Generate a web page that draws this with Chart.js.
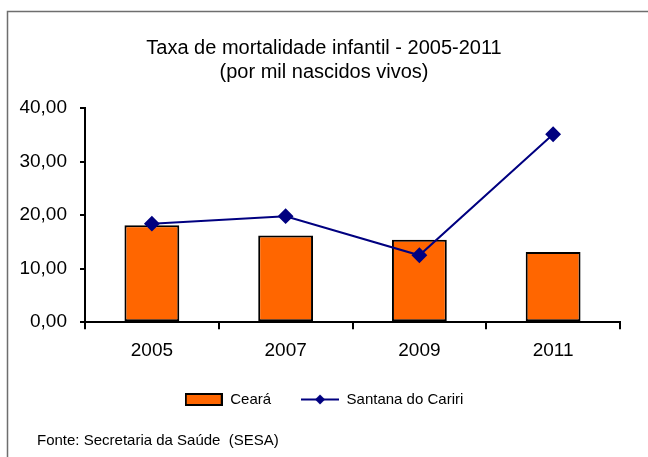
<!DOCTYPE html>
<html>
<head>
<meta charset="utf-8">
<script src="https://cdn.jsdelivr.net/npm/chart.js@4/dist/chart.umd.min.js"></script>
<style>
  body { margin: 0; background: #fff; }
  #wrap { width: 648px; height: 457px; position: relative; }
</style>
</head>
<body>
<div id="wrap"><canvas id="chart" width="648" height="457"></canvas></div>
<script>
const years = ['2005', '2007', '2009', '2011'];
const ceara = [18.1, 16.2, 15.4, 13.1];
const santana = [18.4, 19.8, 12.5, 35.1];
const yTicks = [0, 10, 20, 30, 40];
const titleLines = ['Taxa de mortalidade infantil - 2005-2011', '(por mil nascidos vivos)'];
const sourceText = 'Fonte: Secretaria da Saúde  (SESA)';

const FONT = 'Liberation Sans, Arial, sans-serif';
const ORANGE = '#FF6600';
const NAVY = '#000080';

// little legend markers
function barSwatch() {
    const c = document.createElement('canvas');
    c.width = 38; c.height = 13;
    const g = c.getContext('2d');
    g.fillStyle = ORANGE;
    g.fillRect(1, 1, 36, 11);
    g.strokeStyle = '#000';
    g.lineWidth = 2;
    g.strokeRect(1, 1, 36, 11);
    return c;
}
function lineSwatch() {
    const c = document.createElement('canvas');
    c.width = 38; c.height = 13;
    const g = c.getContext('2d');
    g.strokeStyle = NAVY;
    g.lineWidth = 2;
    g.beginPath(); g.moveTo(0, 6.5); g.lineTo(38, 6.5); g.stroke();
    g.fillStyle = NAVY;
    g.beginPath();
    g.moveTo(19, 1.5); g.lineTo(24, 6.5); g.lineTo(19, 11.5); g.lineTo(14, 6.5);
    g.closePath(); g.fill();
    return c;
}

const frameAndSource = {
    id: 'frameAndSource',
    afterDraw(chart) {
        const ctx = chart.ctx;
        ctx.save();
        ctx.strokeStyle = '#6e6e6e';
        ctx.lineWidth = 1.5;
        ctx.beginPath();
        ctx.moveTo(7.5, 457);
        ctx.lineTo(7.5, 11.5);
        ctx.lineTo(648, 11.5);
        ctx.stroke();
        ctx.fillStyle = '#000';
        ctx.font = '15px ' + FONT;
        ctx.textBaseline = 'alphabetic';
        ctx.fillText(sourceText, 37, 445);
        ctx.restore();
    }
};

new Chart(document.getElementById('chart'), {
    type: 'bar',
    data: {
        labels: years,
        datasets: [{
            type: 'line',
            label: 'Santana do Cariri',
            data: santana,
            borderColor: NAVY,
            backgroundColor: NAVY,
            borderWidth: 2,
            pointStyle: 'rectRot',
            pointRadius: 6.5,
            pointHoverRadius: 6.5,
            tension: 0,
            order: 0
        }, {
            label: 'Ceará',
            data: ceara,
            backgroundColor: ORANGE,
            borderColor: '#000',
            borderWidth: 2,
            borderSkipped: false,
            barPercentage: 0.41,
            categoryPercentage: 1,
            order: 1
        }]
    },
    options: {
        responsive: false,
        animation: false,
        layout: { padding: { left: 0, right: 0, top: 0, bottom: 40 } },
        plugins: {
            tooltip: { enabled: false },
            title: {
                display: true,
                text: titleLines,
                color: '#000',
                font: { family: FONT, size: 20, weight: 'normal', lineHeight: 1.2 },
                padding: { top: 36, bottom: 24 }
            },
            legend: {
                position: 'bottom',
                labels: {
                    color: '#000',
                    font: { family: FONT, size: 15 },
                    usePointStyle: true,
                    pointStyleWidth: 38,
                    boxHeight: 13,
                    padding: 30,
                    generateLabels: () => [
                        { text: 'Ceará', pointStyle: barSwatch(), fillStyle: ORANGE, strokeStyle: '#000', lineWidth: 0, datasetIndex: 1 },
                        { text: 'Santana do Cariri', pointStyle: lineSwatch(), fillStyle: NAVY, strokeStyle: NAVY, lineWidth: 0, datasetIndex: 0 }
                    ]
                }
            }
        },
        scales: {
            x: {
                afterFit: s => { s.height = s.height - 10; },
                grid: { drawOnChartArea: false, color: '#000', lineWidth: 2, tickLength: 7, offset: true },
                border: { color: '#000', width: 2 },
                ticks: { color: '#000', font: { family: FONT, size: 19 }, padding: 10 }
            },
            y: {
                min: 0,
                max: 40,
                afterFit: s => { s.width = 85; },
                afterBuildTicks: s => { s.ticks = yTicks.map(v => ({ value: v })); },
                grid: { drawOnChartArea: false, color: '#000', lineWidth: 2, tickLength: 5 },
                border: { color: '#000', width: 2 },
                ticks: {
                    color: '#000',
                    font: { family: FONT, size: 19 },
                    padding: 13,
                    callback: v => v.toFixed(2).replace('.', ',')
                }
            },
            // empty right-hand strip so the title and legend centre on the whole picture
            spacer: {
                position: 'right',
                afterFit: s => { s.width = 28; },
                grid: { display: false },
                border: { display: false },
                ticks: { display: false }
            }
        }
    },
    plugins: [frameAndSource]
});
</script>
</body>
</html>
